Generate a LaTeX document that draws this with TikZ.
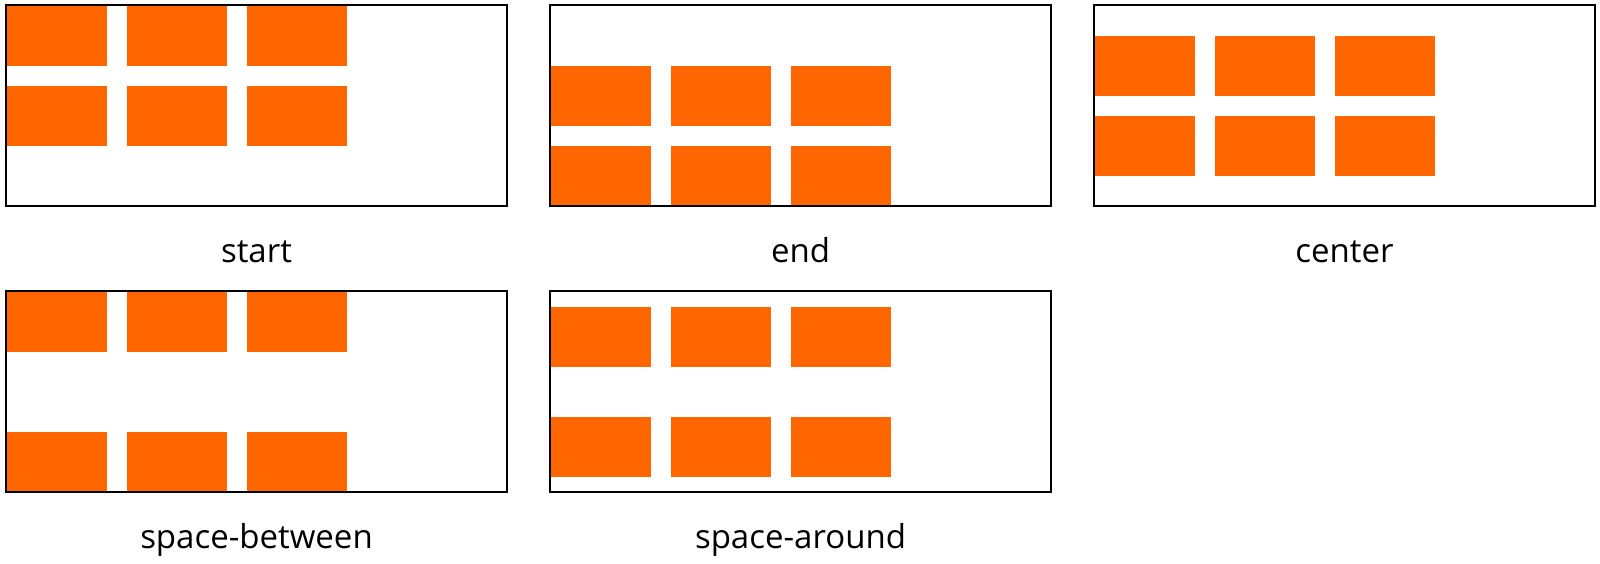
\documentclass[tikz,border=0pt]{standalone}
\usepackage{fontspec}
\setmainfont{Open Sans}
\definecolor{boxorange}{HTML}{FF6600}
\begin{document}
\begin{tikzpicture}[x=1pt,y=-1pt,
  item/.style={fill=boxorange},
  frame/.style={draw=black,line width=2.2pt},
  lbl/.style={font=\fontsize{33}{40}\selectfont, anchor=base, inner sep=0pt}]
\useasboundingbox (0,0) rectangle (1600,564);
\foreach \c/\r/\ya/\yb/\nm/\txt in {0/0/0/80/start/start, 1/0/60/140/end/end, 2/0/30/110/center/center, 0/1/0/140/between/space-between, 1/1/15/125/around/space-around}{
  \pgfmathsetmacro\xL{6+544*\c}
  \pgfmathsetmacro\yT{5+286*\r}
  \foreach \k in {0,1,2}{
    \fill[item] (\xL+1+120*\k, \yT+1+\ya) rectangle ++(100,60);
    \fill[item] (\xL+1+120*\k, \yT+1+\yb) rectangle ++(100,60);
  }
  \draw[frame] (\xL,\yT) rectangle ++(501,201);
  \node[lbl] (\nm) at (\xL+250.5, \yT+257) {\txt};
}
\end{tikzpicture}
\end{document}
